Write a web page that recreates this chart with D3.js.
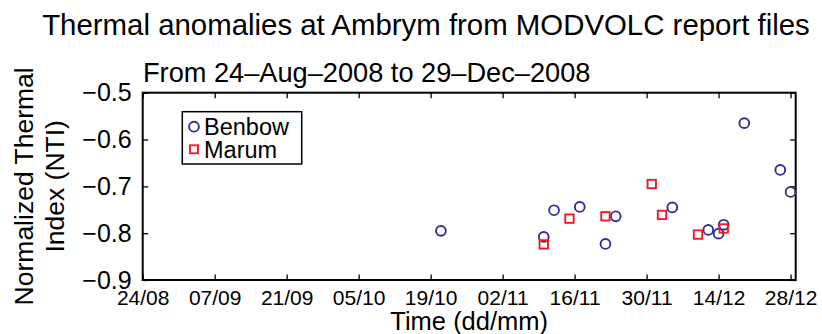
<!DOCTYPE html>
<html>
<head>
<meta charset="utf-8">
<script src="https://cdn.jsdelivr.net/npm/d3@7/dist/d3.min.js"></script>
<style>
  html, body { margin: 0; padding: 0; background: #fff; }
  svg { display: block; font-family: "Liberation Sans", Arial, Helvetica, sans-serif; }
</style>
</head>
<body>
<svg id="chart" width="822" height="334"></svg>
<script>
// ---- Data ----
const benbowDates  = ["2008-10-21","2008-11-10","2008-11-12","2008-11-17","2008-11-22","2008-11-24","2008-12-05","2008-12-12","2008-12-14","2008-12-15","2008-12-19","2008-12-26","2008-12-28"];
const benbowValues = [-0.795, -0.808, -0.751, -0.744, -0.823, -0.764, -0.745, -0.793, -0.801, -0.782, -0.565, -0.665, -0.712];
const marumDates   = ["2008-11-10","2008-11-15","2008-11-22","2008-12-01","2008-12-03","2008-12-10","2008-12-15"];
const marumValues  = [-0.824, -0.769, -0.764, -0.695, -0.761, -0.803, -0.790];
const xDomain      = ["2008-08-24", "2008-12-29"];
const xTickDates   = ["2008-08-24","2008-09-07","2008-09-21","2008-10-05","2008-10-19","2008-11-02","2008-11-16","2008-11-30","2008-12-14","2008-12-28"];
const yDomain      = [-0.9, -0.5];
const yTicks       = [-0.9, -0.8, -0.7, -0.6, -0.5];
const seriesNames  = ["Benbow", "Marum"];
const titleText    = "Thermal anomalies at Ambrym from MODVOLC report files";
const subtitleText = "From 24\u2013Aug\u20132008 to 29\u2013Dec\u20132008";
const xLabelText   = "Time (dd/mm)";
const yLabelLines  = ["Normalized Thermal", "Index (NTI)"];

(function () {
// ---- Layout ----
const pL = 142.7, pR = 795.7, pT = 92.7, pB = 280;
const blue = "#2E3192", red = "#ED1C24";

const parse = d3.utcParse("%Y-%m-%d");
const fmt = d3.utcFormat("%d/%m");

const svg = d3.select("#chart");

const x = d3.scaleUtc().domain(xDomain.map(parse)).range([pL, pR]);
const y = d3.scaleLinear().domain(yDomain).range([pB, pT]);

const xt = xTickDates.map(parse);

// Axes (inward ticks)
const gx = svg.append("g").attr("transform", `translate(0,${pB})`)
  .call(d3.axisBottom(x).tickValues(xt).tickFormat(fmt).tickSizeInner(-5.5).tickSizeOuter(0).tickPadding(10));
const gxt = svg.append("g").attr("transform", `translate(0,${pT})`)
  .call(d3.axisTop(x).tickValues(xt).tickFormat("").tickSizeInner(-5.5).tickSizeOuter(0));
const gy = svg.append("g").attr("transform", `translate(${pL},0)`)
  .call(d3.axisLeft(y).tickValues(yTicks).tickFormat(d3.format(".1f")).tickSizeInner(-5.5).tickSizeOuter(0).tickPadding(11));
const gyr = svg.append("g").attr("transform", `translate(${pR},0)`)
  .call(d3.axisRight(y).tickValues(yTicks).tickFormat("").tickSizeInner(-5.5).tickSizeOuter(0));

[gx, gxt, gy, gyr].forEach(g => {
  g.select(".domain").remove();
  g.selectAll(".tick line").attr("stroke", "#000").attr("stroke-width", 1.3);
  g.selectAll(".tick text").attr("fill", "#000").style("font-family", "\"Liberation Sans\", Arial, Helvetica, sans-serif");
});
gx.selectAll(".tick text").style("font-size", "21px");
gy.selectAll(".tick text").style("font-size", "25px");

// Frame
svg.append("rect")
  .attr("x", pL).attr("y", pT)
  .attr("width", pR - pL).attr("height", pB - pT)
  .attr("fill", "none").attr("stroke", "#000").attr("stroke-width", 2);

// Data marks
const benbow = benbowDates.map((d, i) => ({ date: parse(d), value: benbowValues[i] }));
const marum  = marumDates.map((d, i) => ({ date: parse(d), value: marumValues[i] }));

svg.append("g").selectAll("circle").data(benbow).enter().append("circle")
  .attr("cx", d => x(d.date)).attr("cy", d => y(d.value)).attr("r", 4.9)
  .attr("fill", "none").attr("stroke", blue).attr("stroke-width", 1.9);

const sq = 8.4;
svg.append("g").selectAll("rect").data(marum).enter().append("rect")
  .attr("x", d => x(d.date) - sq / 2).attr("y", d => y(d.value) - sq / 2)
  .attr("width", sq).attr("height", sq)
  .attr("fill", "none").attr("stroke", red).attr("stroke-width", 1.9);

// Legend
const lg = svg.append("g");
lg.append("rect").attr("x", 182.3).attr("y", 111.7).attr("width", 119.4).attr("height", 52.3)
  .attr("fill", "#fff").attr("stroke", "#000").attr("stroke-width", 1.5);
lg.append("circle").attr("cx", 194).attr("cy", 126.7).attr("r", 4.9)
  .attr("fill", "none").attr("stroke", blue).attr("stroke-width", 1.9);
lg.append("rect").attr("x", 194 - 4).attr("y", 149.3 - 4).attr("width", 8).attr("height", 8)
  .attr("fill", "none").attr("stroke", red).attr("stroke-width", 1.9);
lg.append("text").attr("x", 204).attr("y", 135).style("font-size", "23.5px").text(seriesNames[0]);
lg.append("text").attr("x", 204).attr("y", 157.6).style("font-size", "23.5px").text(seriesNames[1]);

// Titles
svg.append("text").attr("x", 426).attr("y", 35).attr("text-anchor", "middle")
  .style("font-size", "29.4px").text(titleText);
svg.append("text").attr("x", 143).attr("y", 81.5)
  .style("font-size", "27.2px").text(subtitleText);

// Axis labels
svg.append("text").attr("x", (pL + pR) / 2).attr("y", 329.5).attr("text-anchor", "middle")
  .style("font-size", "25.5px").text(xLabelText);
const cy = (pT + pB) / 2;
svg.append("text").attr("transform", `translate(33,${cy}) rotate(-90)`).attr("text-anchor", "middle")
  .style("font-size", "26.5px").text(yLabelLines[0]);
svg.append("text").attr("transform", `translate(64,${cy}) rotate(-90)`).attr("text-anchor", "middle")
  .style("font-size", "26.5px").text(yLabelLines[1]);
})();
</script>
</body>
</html>
